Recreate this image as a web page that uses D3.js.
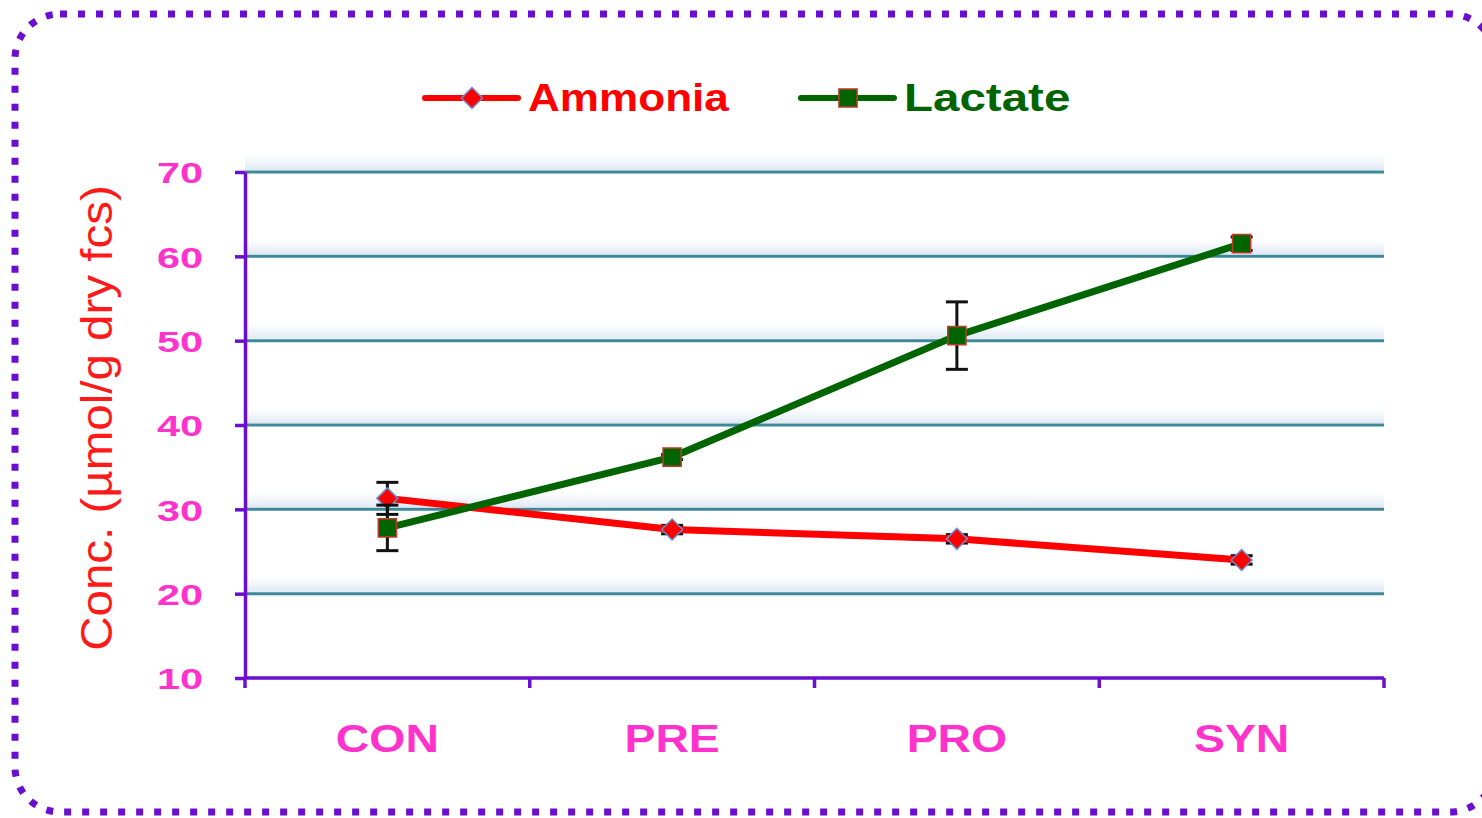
<!DOCTYPE html>
<html><head><meta charset="utf-8">
<script src="https://cdn.jsdelivr.net/npm/d3@7"></script>
<style>body{margin:0;background:#fff}svg{display:block}</style>
</head><body>
<svg id="c" width="1482" height="818"></svg>
<script>
const categories = ["CON","PRE","PRO","SYN"];
const ammonia = [31.3, 27.6, 26.5, 24.0];
const ammoniaErr = [1.9, 0.5, 0.5, 0.5];
const lactate = [27.8, 36.2, 50.6, 61.5];
const lactateErr = [2.7, 0.3, 4.0, 0.8];
const yTicks = [10,20,30,40,50,60,70];

const svg = d3.select("#c");
const FONT = "Liberation Sans, Arial, sans-serif";
function stretch(sel, f){
  sel.each(function(){
    const w = this.getComputedTextLength();
    d3.select(this).attr("textLength", w*f).attr("lengthAdjust","spacingAndGlyphs");
  });
}
const defs = svg.append("defs");
const g0 = defs.append("linearGradient").attr("id","band").attr("x1",0).attr("x2",0).attr("y1",0).attr("y2",1);
g0.append("stop").attr("offset","0%").attr("stop-color","#e9f0f8").attr("stop-opacity",0);
g0.append("stop").attr("offset","100%").attr("stop-color","#dfe8f3").attr("stop-opacity",1);

// border
svg.append("rect").attr("x",15).attr("y",14).attr("width",1480).attr("height",798).attr("rx",45)
  .attr("fill","none").attr("stroke","#6a0fd0").attr("stroke-width",7)
  .attr("stroke-dasharray","7 11");

const pL=245, pR=1384, pT=172, pB=678;
const x = d3.scaleBand().domain(categories).range([pL,pR]);
const y = d3.scaleLinear().domain([10,70]).range([pB,pT]);

// bands & gridlines
const grid = svg.append("g");
yTicks.filter(t=>t>10).forEach(t=>{
  grid.append("rect").attr("x",pL).attr("y",y(t)-18).attr("width",pR-pL).attr("height",16).attr("fill","url(#band)");
  grid.append("line").attr("x1",pL).attr("x2",pR).attr("y1",y(t)).attr("y2",y(t))
    .attr("stroke","#3d8898").attr("stroke-width",3);
});

// axes
const yAxis = svg.append("g").attr("transform",`translate(${pL},0)`)
  .call(d3.axisLeft(y).tickValues(yTicks).tickSize(10).tickPadding(32).tickSizeOuter(0));
yAxis.select(".domain").attr("stroke","#6a0fd0").attr("stroke-width",3.5);
yAxis.selectAll(".tick line").attr("stroke","#6a0fd0").attr("stroke-width",3.5);
yAxis.selectAll(".tick text").attr("fill","#ff33cc").attr("font-family",FONT)
  .attr("font-weight","bold").attr("font-size",30).attr("dy","0.36em").call(stretch,1.38);

const xAxis = svg.append("g").attr("transform",`translate(0,${pB})`)
  .call(d3.axisBottom(x).tickSize(0).tickPadding(47));
xAxis.select(".domain").remove();
xAxis.selectAll(".tick text").attr("fill","#ff33cc").attr("font-family",FONT)
  .attr("font-weight","bold").attr("font-size",38).call(stretch,1.22);
svg.append("line").attr("x1",pL).attr("x2",pR).attr("y1",pB).attr("y2",pB)
  .attr("stroke","#6a0fd0").attr("stroke-width",3.5);
const bTicks = categories.map(c=>x(c)).concat([pR]);
svg.append("g").selectAll("line").data(bTicks).join("line")
  .attr("x1",d=>d).attr("x2",d=>d).attr("y1",pB).attr("y2",pB+10)
  .attr("stroke","#6a0fd0").attr("stroke-width",3.5);

// y title
svg.append("text").attr("transform",`translate(112,418) rotate(-90)`)
  .attr("text-anchor","middle").attr("fill","#ff1a1a")
  .attr("font-family",FONT).attr("font-size",44)
  .text("Conc. (µmol/g dry fcs)").call(stretch,1.08);

const cx = c => x(c) + x.bandwidth()/2;

function series(vals, errs, color, shape, markFill, markStroke, size){
  const g = svg.append("g");
  categories.forEach((c,i)=>{
    const xx=cx(c), y1=y(vals[i]+errs[i]), y2=y(vals[i]-errs[i]);
    g.append("line").attr("x1",xx).attr("x2",xx).attr("y1",y1).attr("y2",y2).attr("stroke","#111").attr("stroke-width",3);
    [y1,y2].forEach(yy=>g.append("line").attr("x1",xx-11).attr("x2",xx+11).attr("y1",yy).attr("y2",yy).attr("stroke","#111").attr("stroke-width",3));
  });
  const line = d3.line().x((d,i)=>cx(categories[i])).y(d=>y(d));
  g.append("path").attr("d",line(vals)).attr("fill","none").attr("stroke",color).attr("stroke-width",7);
  const sym = d3.symbol().type(shape).size(size);
  g.selectAll(".m").data(vals).join("path")
    .attr("transform",(d,i)=>`translate(${cx(categories[i])},${y(d)})`)
    .attr("d",sym).attr("fill",markFill).attr("stroke",markStroke).attr("stroke-width",1.5);
}
series(ammonia, ammoniaErr, "#ff0000", d3.symbolDiamond2, "#ff0000", "#6c8ccc", 280);
series(lactate, lactateErr, "#006400", d3.symbolSquare, "#006400", "#c0392b", 330);

// legend
const lg = svg.append("g");
function legendItem(x0, color, shape, fill, stroke, label, size, f){
  lg.append("line").attr("x1",x0).attr("x2",x0+93).attr("y1",98).attr("y2",98).attr("stroke",color).attr("stroke-width",6).attr("stroke-linecap","round");
  lg.append("path").attr("transform",`translate(${x0+47},98)`).attr("d",d3.symbol().type(shape).size(size)())
    .attr("fill",fill).attr("stroke",stroke).attr("stroke-width",1.5);
  lg.append("text").attr("x",x0+103).attr("y",111).attr("fill",color)
    .attr("font-family",FONT).attr("font-weight","bold").attr("font-size",38)
    .text(label).call(stretch,f);
}
legendItem(425, "#ff0000", d3.symbolDiamond2, "#ff0000", "#6c8ccc", "Ammonia", 280, 1.16);
legendItem(801, "#006400", d3.symbolSquare, "#006400", "#c0392b", "Lactate", 330, 1.25);
</script>
</body></html>
